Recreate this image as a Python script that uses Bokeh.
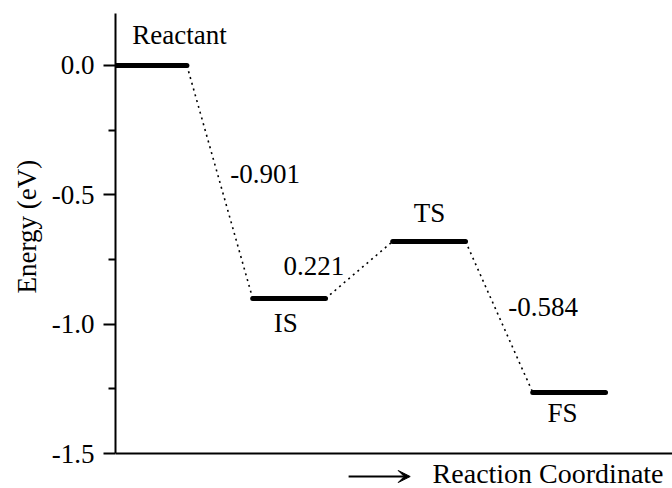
from bokeh.plotting import figure
from bokeh.models import Range1d, FixedTicker, PrintfTickFormatter, Arrow, VeeHead, ColumnDataSource, Title
from bokeh.core.properties import value
from bokeh.embed import file_html
from bokeh.resources import INLINE

FONT = "Liberation Serif"
FS_PX = "27px"

# data
states = ["Reactant", "IS", "TS", "FS"]
energies = [0.0, -0.901, -0.680, -1.264]
level_start = [0.0, 1.96, 3.96, 5.96]
level_end = [1.02, 3.0, 5.0, 7.0]
state_label_x = [0.24, 2.26, 4.26, 6.17]
state_label_y = [0.118, -0.996, -0.570, -1.343]
step_labels = ["-0.901", "0.221", "-0.584"]
step_label_x = [1.64, 2.40, 5.61]
step_label_y = [-0.421, -0.777, -0.932]
y_ticks = [-1.5, -1.0, -0.5, 0.0]
y_minor = [-1.25, -0.75, -0.25]
x_title = "Reaction Coordinate"
y_title = "Energy (eV)"
y_min, y_max = -1.5, 0.201
x_min, x_max = 0.0, 7.957

p = figure(width=672, height=488, output_backend="svg", toolbar_location=None,
           x_range=Range1d(x_min, x_max), y_range=Range1d(-1.6353, y_max))
p.min_border_left = 115
p.min_border_right = 0
p.min_border_top = 13
p.min_border_bottom = 0
p.outline_line_color = None
p.grid.visible = False
p.background_fill_color = "white"
p.border_fill_color = "white"
p.xaxis.visible = False

# y axis
ya = p.yaxis[0]
ya.bounds = (y_min, y_max)
ya.ticker = FixedTicker(ticks=y_ticks, minor_ticks=y_minor)
ya.formatter = PrintfTickFormatter(format="%.1f")
ya.axis_line_width = 2
ya.axis_line_color = "black"
ya.major_tick_line_width = 2
ya.major_tick_line_color = "black"
ya.major_tick_in = 0
ya.major_tick_out = 12
ya.minor_tick_line_width = 2
ya.minor_tick_line_color = "black"
ya.minor_tick_in = 0
ya.minor_tick_out = 7
ya.major_label_text_font = FONT
ya.major_label_text_font_size = FS_PX
ya.major_label_text_color = "black"
ya.major_label_standoff = 9

# y axis title, placed along the bounded axis
p.add_layout(Title(text=y_title, align="left", offset=195, vertical_align="bottom",
                   standoff=14, text_font=FONT, text_font_size=FS_PX,
                   text_font_style="normal", text_color="black"), "left")

# bottom axis line
p.segment(x0=[x_min], y0=[y_min], x1=[x_max], y1=[y_min], line_width=2, line_color="black")

# energy levels
p.segment(x0=level_start, y0=energies, x1=level_end, y1=energies,
          line_width=5, line_color="black", line_cap="round")

# dotted connectors
p.segment(x0=level_end[:-1], y0=energies[:-1], x1=level_start[1:], y1=energies[1:],
          line_width=1.6, line_color="black", line_dash="2 4")

src_s = ColumnDataSource(dict(x=state_label_x, y=state_label_y, t=states))
p.text(x="x", y="y", text="t", source=src_s, text_font=value(FONT),
       text_font_size=value(FS_PX), text_align="left", text_baseline="middle", text_color="black")

src_d = ColumnDataSource(dict(x=step_label_x, y=step_label_y, t=step_labels))
p.text(x="x", y="y", text="t", source=src_d, text_font=value(FONT),
       text_font_size=value(FS_PX), text_align="left", text_baseline="middle", text_color="black")

# reaction coordinate label with arrow
p.add_layout(Arrow(x_start=3.33, y_start=-1.589, x_end=4.21, y_end=-1.589,
                   line_width=2, line_color="black",
                   end=VeeHead(size=12, line_color="black", fill_color="black", line_width=1)))
p.text(x=[4.53], y=[-1.579], text=[x_title], text_font=value(FONT),
       text_font_size=value("28px"), text_align="left", text_baseline="middle", text_color="black")

open("out.html", "w").write(file_html(p, INLINE))
